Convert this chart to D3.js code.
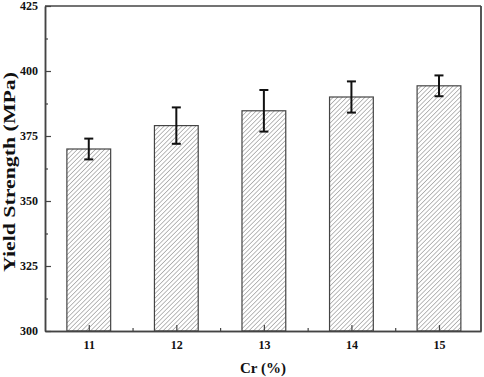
<!DOCTYPE html>
<html><head><meta charset="utf-8">
<script src="https://cdn.jsdelivr.net/npm/d3@7"></script>
<style>body{margin:0;background:#fff}svg{display:block}</style>
</head><body>
<script>
const categories = [11, 12, 13, 14, 15];
const values = [370, 379, 384.7, 390, 394.3];
const errors = [4, 7, 8, 6, 4];
const yTicks = [300, 325, 350, 375, 400, 425];

const W = 484, H = 377;
const m = {l: 45, r: 3, t: 6, b: 46};
const svg = d3.select("body").append("svg").attr("width", W).attr("height", H);
const x = d3.scaleLinear().domain([10.5, 15.48]).range([m.l, W - m.r]);
const y = d3.scaleLinear().domain([300, 425]).range([H - m.b, m.t]);

const defs = svg.append("defs");
const pat = defs.append("pattern").attr("id", "hatch").attr("patternUnits", "userSpaceOnUse")
  .attr("width", 3.2).attr("height", 3.2).attr("patternTransform", "rotate(45)");
pat.append("rect").attr("width", 3.2).attr("height", 3.2).attr("fill", "#fff");
pat.append("line").attr("x1", 0).attr("y1", 0).attr("x2", 0).attr("y2", 3.2)
  .attr("stroke", "#777").attr("stroke-width", 1);

const bw = x(11.5) - x(11);
svg.selectAll("rect.bar").data(categories).join("rect").attr("class", "bar")
  .attr("x", (d) => x(d) - bw / 2).attr("width", bw)
  .attr("y", (d, i) => y(values[i])).attr("height", (d, i) => y(300) - y(values[i]))
  .attr("fill", "url(#hatch)").attr("stroke", "#444").attr("stroke-width", 1.2);

// error bars
const eb = svg.append("g").attr("stroke", "#111").attr("stroke-width", 2);
categories.forEach((c, i) => {
  const cx = x(c), yt = y(values[i] + errors[i]), yb = y(values[i] - errors[i]);
  eb.append("line").attr("x1", cx).attr("x2", cx).attr("y1", yt).attr("y2", yb);
  eb.append("line").attr("x1", cx - 4.5).attr("x2", cx + 4.5).attr("y1", yt).attr("y2", yt);
  eb.append("line").attr("x1", cx - 4.5).attr("x2", cx + 4.5).attr("y1", yb).attr("y2", yb);
});

// axes
const axCol = "#444";
const gy = svg.append("g").attr("transform", `translate(${m.l},0)`)
  .call(d3.axisLeft(y).tickValues(yTicks).tickSizeInner(-6).tickSizeOuter(0).tickPadding(7));
const gyMinor = svg.append("g").attr("transform", `translate(${m.l},0)`)
  .call(d3.axisLeft(y).tickValues(d3.range(312.5, 425, 25)).tickSizeInner(-3).tickSizeOuter(0).tickFormat(""));
const gx = svg.append("g").attr("transform", `translate(0,${H - m.b})`)
  .call(d3.axisBottom(x).tickValues(categories).tickSizeInner(-6).tickSizeOuter(0).tickPadding(9).tickFormat(d3.format("d")));
const gxMinor = svg.append("g").attr("transform", `translate(0,${H - m.b})`)
  .call(d3.axisBottom(x).tickValues([11.5, 12.5, 13.5, 14.5]).tickSizeInner(-3).tickSizeOuter(0).tickFormat(""));
[gy, gyMinor, gx, gxMinor].forEach(g => {
  g.selectAll("path.domain").attr("stroke", axCol).attr("stroke-width", 1.5);
  g.selectAll(".tick line").attr("stroke", axCol).attr("stroke-width", 1.2);
  g.selectAll("text").attr("font-family", "Liberation Serif, Times New Roman, serif")
    .attr("font-weight", "bold").attr("font-size", 12).attr("fill", "#111");
});
// frame top/right
svg.append("line").attr("x1", m.l).attr("x2", W - m.r).attr("y1", m.t).attr("y2", m.t)
  .attr("stroke", axCol).attr("stroke-width", 1.5);
svg.append("line").attr("x1", W - m.r).attr("x2", W - m.r).attr("y1", m.t).attr("y2", H - m.b)
  .attr("stroke", axCol).attr("stroke-width", 1.8);

svg.append("text").attr("x", (m.l + W - m.r) / 2).attr("y", 373).attr("text-anchor", "middle")
  .attr("font-family", "Liberation Serif, Times New Roman, serif").attr("font-weight", "bold")
  .attr("font-size", 15).attr("fill", "#111").text("Cr (%)");
svg.append("text").attr("transform", `translate(15,172) rotate(-90)`)
  .attr("text-anchor", "middle").attr("textLength", 200).attr("lengthAdjust", "spacingAndGlyphs")
  .attr("font-family", "Liberation Serif, Times New Roman, serif").attr("font-weight", "bold")
  .attr("font-size", 17).attr("fill", "#111").text("Yield Strength (MPa)");
</script>
</body></html>
